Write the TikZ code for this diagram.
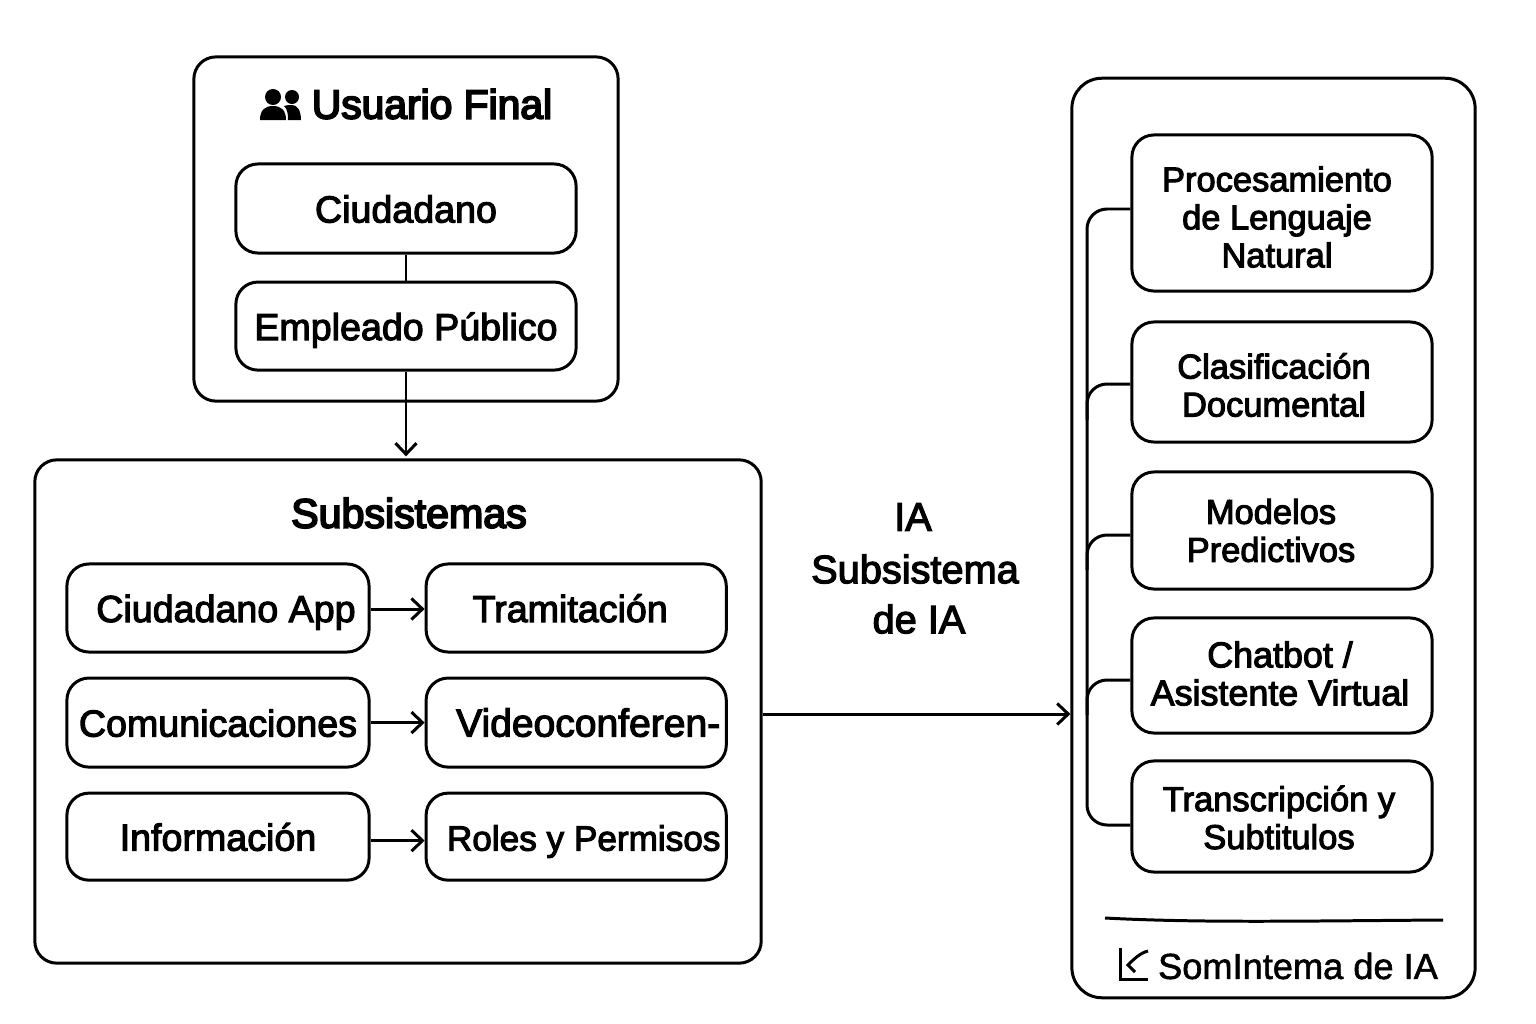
\documentclass[tikz,border=0pt]{standalone}
\usepackage{fontspec}
\setmainfont[FakeBold=3]{Liberation Sans}
\newfontfamily\titlefont[FakeBold=4.5]{Liberation Sans}
\newfontfamily\footfont[FakeBold=1.5]{Liberation Sans}
\usetikzlibrary{arrows.meta}

\tikzset{
  outerbox/.style={draw, line width=0.85pt, rounded corners=0.22cm},
  innerbox/.style={draw, line width=0.85pt, rounded corners=0.22cm, align=center, inner sep=0pt,
    minimum width=3.0cm},
  linetext/.style={align=center, inner sep=0pt, text height=0.35cm, text depth=0.07cm,
    font=\fontsize{10.7pt}{10.8pt}\selectfont},
  sidetext/.style={align=center, inner sep=0pt, font=\fontsize{9.8pt}{10.8pt}\selectfont},
  bigtext/.style={align=center, inner sep=0pt, font=\fontsize{11.3pt}{12pt}\selectfont},
  link/.style={line width=0.85pt},
  flow/.style={line width=0.85pt, -{Straight Barb[length=1.1mm,width=2.1mm]}},
}

\begin{document}
\begin{tikzpicture}[x=0.01cm, y=-0.01cm]
\useasboundingbox (0,0) rectangle (1536,1024);

%outer boxes
\node (usuario) [outerbox, minimum width=4.24cm, minimum height=3.44cm] at (406,229) {};
\node (subsistemas) [outerbox, minimum width=7.26cm, minimum height=5.03cm] at (398,711.5) {};
\node (sistemaIA) [outerbox, rounded corners=0.3cm, minimum width=4.03cm, minimum height=9.19cm] at (1273.5,538) {};

%user side
\node (usuarioTitulo) [bigtext, font=\titlefont\fontsize{11.6pt}{12pt}\selectfont] at (432,104) {Usuario Final};
\node (ciudadano) [innerbox, linetext, minimum width=3.4cm, minimum height=0.89cm] at (406,208.5) {Ciudadano};
\node (empleado) [innerbox, linetext, minimum width=3.4cm, minimum height=0.88cm, below of=ciudadano, node distance=1.175cm] {Empleado Público};

%subsystems
\node (subTitulo) [bigtext, font=\titlefont\fontsize{11.7pt}{12pt}\selectfont] at (409,513) {Subsistemas};

\node (app) [innerbox, minimum width=3.02cm, minimum height=0.88cm] at (218,608) {};
\node (appText) [linetext, right of=app, node distance=0.08cm] {Ciudadano App};
\node (tramitacion) [innerbox, minimum height=0.88cm, right of=app, node distance=3.58cm] {};
\node (tramitacionText) [linetext, left of=tramitacion, node distance=0.06cm] {Tramitación};

\node (comunicaciones) [innerbox, linetext, minimum width=3.02cm, minimum height=0.89cm, below of=app, node distance=1.145cm] {Comunicaciones};
\node (video) [innerbox, minimum height=0.89cm, right of=comunicaciones, node distance=3.58cm] {};
\node (videoText) [linetext, font=\fontsize{11.1pt}{10.8pt}\selectfont, right of=video, node distance=0.12cm] {Videoconferen-};

\node (informacion) [innerbox, linetext, minimum width=3.02cm, minimum height=0.87cm, below of=comunicaciones, node distance=1.14cm] {Información};
\node (roles) [innerbox, minimum height=0.87cm, right of=informacion, node distance=3.58cm] {};
\node (rolesText) [linetext, font=\fontsize{10pt}{10.8pt}\selectfont, right of=roles, node distance=0.075cm] {Roles y Permisos};

%middle label
\node (ia) [bigtext] at (913,517) {IA};
\node (iaSub) [bigtext, below of=ia, node distance=0.52cm, xshift=0.02cm] {Subsistema};
\node (iaDe) [bigtext, below of=iaSub, node distance=0.5cm, xshift=0.04cm] {de IA};

%ai side
\node (procesamiento) [innerbox, minimum height=1.56cm] at (1282,213) {};
\node (procesamientoText) [sidetext, left of=procesamiento, node distance=0.05cm, yshift=-0.04cm] {Procesamiento\\de Lenguaje\\Natural};
\node (clasificacion) [innerbox, minimum height=1.20cm] at (1282,382) {};
\node (clasificacionText) [sidetext, left of=clasificacion, node distance=0.08cm, yshift=-0.03cm] {Clasificación\\Documental};
\node (modelos) [innerbox, minimum height=1.17cm] at (1282,530.5) {};
\node (modelosText) [sidetext, left of=modelos, node distance=0.11cm] {Modelos\\Predictivos};
\node (chatbot) [innerbox, minimum height=1.15cm] at (1282,675.5) {};
\node (chatbotText) [sidetext, font=\fontsize{10.2pt}{10.8pt}\selectfont, left of=chatbot, node distance=0.02cm, yshift=0.02cm] {Chatbot /\\Asistente Virtual};
\node (transcripcion) [innerbox, minimum height=1.11cm] at (1282,816.5) {};
\node (transcripcionText) [sidetext, left of=transcripcion, node distance=0.03cm, yshift=-0.01cm] {Transcripción y\\Subtitulos};

\coordinate (ruleLeft) at (1105,918);
\coordinate (ruleRight) at (1443,920);
\node (pieIA) [sidetext, font=\footfont\fontsize{10.3pt}{12pt}\selectfont] at (1298,966) {SomIntema de IA};

%links
\draw[link] (ciudadano) -- (empleado);
\draw[flow] (empleado.south) -- ([yshift=0.02cm]empleado.south |- subsistemas.north);
\draw[flow] ([yshift=-0.01cm]app.east) -- ([yshift=-0.01cm]tramitacion.west);
\draw[flow] (comunicaciones.east) -- (video.west);
\draw[flow] ([yshift=-0.04cm]informacion.east) -- ([yshift=-0.04cm]roles.west);
\draw[flow] ([yshift=-0.025cm]subsistemas.east) -- ([yshift=-0.025cm]subsistemas.east -| sistemaIA.west);

%bus on the ai side
\coordinate (busTop) at (1087,209);
\coordinate (busBottom) at (1087,825);
\draw[link, rounded corners=0.2cm] ([yshift=0.04cm]procesamiento.west) -- (busTop) -- (busBottom) -- ([yshift=-0.085cm]transcripcion.west);
\draw[link, rounded corners=0.2cm] ([yshift=-0.02cm]clasificacion.west) -| (1087,420);
\draw[link, rounded corners=0.2cm] ([yshift=-0.045cm]modelos.west) -| (1087,570);
\draw[link, rounded corners=0.2cm] ([yshift=-0.045cm]chatbot.west) -| (1087,715);

\draw[link] (ruleLeft) .. controls (1200,923) and (1300,921) .. (ruleRight);

%icons
\fill (273,97) circle (0.08cm);
\fill (292,97) circle (0.07cm);
\fill (260,120) .. controls (260,110) and (265,106) .. (273,106) .. controls (281,106) and (286,110) .. (286,120) -- cycle;
\fill (288,120) .. controls (288,112) and (287,109) .. (284,106) .. controls (287,105) and (289,105) .. (292,105) .. controls (297,105) and (301,110) .. (301,120) -- cycle;

\draw[line width=0.85pt] (1120,948) -- (1120,979) -- (1148,979);
\draw[line width=0.85pt] (1148,951) .. controls (1140,953) and (1134,959) .. (1128,965) -- (1135,972);
\end{tikzpicture}
\end{document}
